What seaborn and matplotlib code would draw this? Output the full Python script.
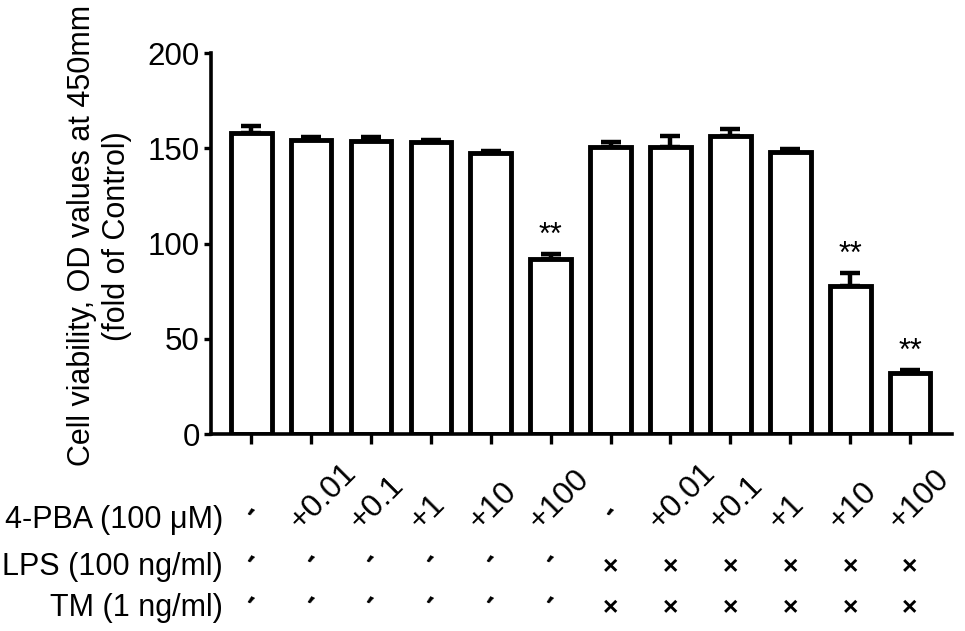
import numpy as np
import pandas as pd
import seaborn as sns
import matplotlib.pyplot as plt
import matplotlib.transforms as mtransforms

# values
groups = ["G1", "G2", "G3", "G4", "G5", "G6", "G7", "G8", "G9", "G10", "G11", "G12"]
pba_labels = ["-", "+0.01", "+0.1", "+1", "+10", "+100", "-", "+0.01", "+0.1", "+1", "+10", "+100"]
lps_labels = ["-", "-", "-", "-", "-", "-", "+", "+", "+", "+", "+", "+"]
tm_labels = ["-", "-", "-", "-", "-", "-", "+", "+", "+", "+", "+", "+"]
means = [158.0, 154.3, 153.8, 153.4, 147.3, 91.7, 150.8, 150.5, 156.6, 147.9, 77.7, 32.2]
sds = [3.5, 1.8, 2.0, 1.0, 1.5, 3.0, 2.6, 6.0, 3.5, 1.5, 7.0, 1.5]
stars = ["", "", "", "", "", "**", "", "", "", "", "**", "**"]
row_names = ["4-PBA (100 μM)", "LPS (100 ng/ml)", "TM (1 ng/ml)"]

sns.set_style("ticks", {"axes.edgecolor": "black", "text.color": "black",
                        "axes.labelcolor": "black", "xtick.color": "black",
                        "ytick.color": "black"})
plt.rcParams["font.family"] = ["Liberation Sans", "DejaVu Sans"]

df = pd.DataFrame({"group": groups, "value": means})

fig = plt.figure(figsize=(9.65, 6.31), dpi=100)
ax = fig.add_axes([0.2187, 0.3122, 0.7678, 0.6038])

x = np.arange(len(groups))
ax.errorbar(x, means, yerr=[np.zeros(len(sds)), sds], fmt="none", ecolor="black",
            elinewidth=3.2, capsize=7.5, capthick=3.2, zorder=1)
sns.barplot(data=df, x="group", y="value", order=groups, color="white",
            edgecolor="black", linewidth=3.5, width=0.68, ax=ax, zorder=2)

for i, s in enumerate(stars):
    if s:
        ax.text(i, means[i] + sds[i] + 1.5, s, ha="center", va="bottom", fontsize=22)

ax.set_xlim(-0.67, 11.7)
ax.set_ylim(0, 200)
ax.set_yticks([0, 50, 100, 150, 200])
ax.set_xticks(x)
ax.set_xticklabels([])
ax.set_xlabel("")
ax.set_ylabel("Cell viability, OD values at 450mm\n(fold of Control)", fontsize=22,
              linespacing=1.2)
ax.yaxis.set_label_coords(-0.107, 0.52)
ax.tick_params(axis="y", labelsize=22.5, width=2.4, length=5, pad=3)
ax.tick_params(axis="x", width=2.4, length=7)
for sp in ["left", "bottom"]:
    ax.spines[sp].set_linewidth(2.6)
sns.despine(ax=ax)

# treatment table under the bars
trans = mtransforms.blended_transform_factory(ax.transData, fig.transFigure)
row_y = [0.176, 0.1014, 0.0365]
for name, yy in zip(row_names, row_y):
    fig.text(0.231, yy, name, ha="right", va="center", fontsize=22)

for i in range(len(groups)):
    lab = pba_labels[i]
    if lab == "-":
        ax.text(i - 0.08, row_y[0], "′", transform=trans, ha="center", va="center",
                fontsize=20, fontweight="bold", rotation=-25)
    else:
        ax.text(i - 0.18, 0.158, lab, transform=trans, ha="left", va="baseline",
                rotation=45, rotation_mode="anchor", fontsize=23)
    for lab2, yy in [(lps_labels[i], row_y[1]), (tm_labels[i], row_y[2])]:
        if lab2 == "-":
            ax.text(i - 0.08, yy, "′", transform=trans, ha="center", va="center",
                    fontsize=20, fontweight="bold", rotation=-25)
        else:
            ax.text(i, yy, "×", transform=trans, ha="center", va="center",
                    fontsize=19, fontweight="bold")

fig.savefig("out.png", dpi=100)
